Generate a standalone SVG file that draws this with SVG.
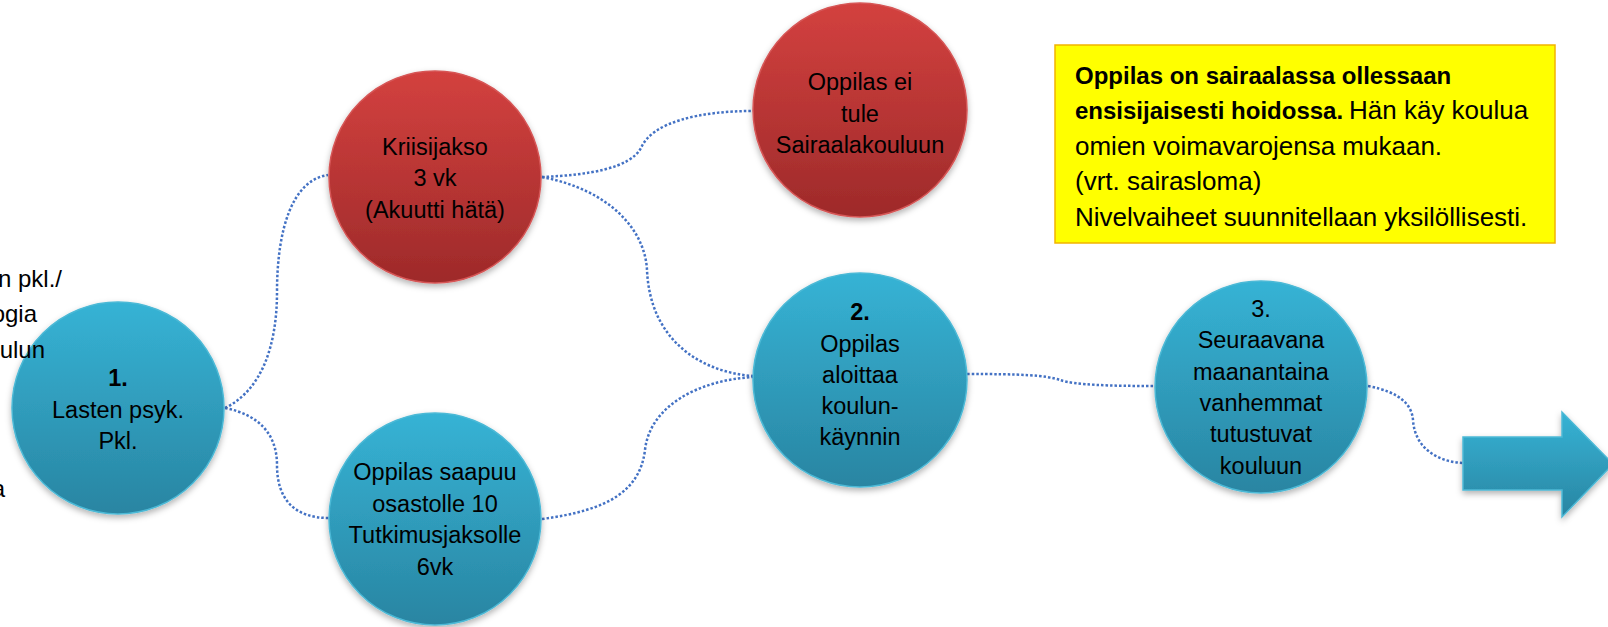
<svg xmlns="http://www.w3.org/2000/svg" width="1608" height="627" viewBox="0 0 1608 627">
<style>
  text { font-family: "Liberation Sans", Arial, sans-serif; fill: #000; }
  .ct { font-size: 23.5px; text-anchor: middle; }
  .b { font-weight: bold; }
  .blue { fill: url(#gBlue); stroke: #4cb9d6; stroke-width: 1.5; filter: url(#sh); }
  .red { fill: url(#gRed); stroke: #d65656; stroke-width: 1.5; filter: url(#sh); }
  .conn { fill: none; stroke: #4472c4; stroke-width: 2.5; stroke-dasharray: 2.5 2; }
  .box { fill: #ffff00; stroke: #f2b400; stroke-width: 1.5; }
  .bt { font-size: 26px; }
  .bb { font-size: 24px; font-weight: bold; }
  .lt { font-size: 24px; text-anchor: end; }
</style>
<defs>
  <linearGradient id="gBlue" x1="0" y1="0" x2="0" y2="1">
    <stop offset="0" stop-color="#36b3d5"/>
    <stop offset="1" stop-color="#2985a2"/>
  </linearGradient>
  <linearGradient id="gRed" x1="0" y1="0" x2="0" y2="1">
    <stop offset="0" stop-color="#d3413f"/>
    <stop offset="1" stop-color="#9e2a2a"/>
  </linearGradient>
  <filter id="sh" x="-20%" y="-20%" width="140%" height="150%">
    <feDropShadow dx="0" dy="3" stdDeviation="3" flood-color="#000" flood-opacity="0.3"/>
  </filter>
</defs>

<g id="connectors">
  <path class="conn" d="M225,408 C262,390 277,345 277,292 C277,230 292,180 328,175"/>
  <path class="conn" d="M225,408 C260,415 277,435 277,465 C277,500 295,518 329,518"/>
  <path class="conn" d="M542,177 C590,175 630,168 641,148 C652,122 700,111 753,111"/>
  <path class="conn" d="M542,177 C610,190 645,230 647,270 C650,340 700,372 753,376"/>
  <path class="conn" d="M542,519 C610,510 640,490 645,450 C650,405 700,380 753,377"/>
  <path class="conn" d="M967,374 C1020,374 1045,375 1060,380 C1075,385 1110,386 1155,386"/>
  <path class="conn" d="M1368,386 C1400,392 1412,405 1413,420 C1415,450 1440,462 1463,463"/>
</g>

<g id="node1">
  <circle class="blue" cx="118" cy="408" r="106"/>
  <text class="ct b" x="118" y="386">1.</text>
  <text class="ct" x="118" y="418">Lasten psyk.</text>
  <text class="ct" x="118" y="449">Pkl.</text>
</g>

<g id="node-kriisi">
  <circle class="red" cx="435" cy="177" r="106"/>
  <text class="ct" x="435" y="155">Kriisijakso</text>
  <text class="ct" x="435" y="186">3 vk</text>
  <text class="ct" x="435" y="218">(Akuutti hätä)</text>
</g>

<g id="node-eitule">
  <circle class="red" cx="860" cy="110" r="107"/>
  <text class="ct" x="860" y="90">Oppilas ei</text>
  <text class="ct" x="860" y="122">tule</text>
  <text class="ct" x="860" y="153">Sairaalakouluun</text>
</g>

<g id="node-saapuu">
  <circle class="blue" cx="435" cy="519" r="106"/>
  <text class="ct" x="435" y="480">Oppilas saapuu</text>
  <text class="ct" x="435" y="512">osastolle 10</text>
  <text class="ct" x="435" y="543">Tutkimusjaksolle</text>
  <text class="ct" x="435" y="575">6vk</text>
</g>

<g id="node2">
  <circle class="blue" cx="860" cy="380" r="107"/>
  <text class="ct b" x="860" y="320">2.</text>
  <text class="ct" x="860" y="352">Oppilas</text>
  <text class="ct" x="860" y="383">aloittaa</text>
  <text class="ct" x="860" y="414">koulun-</text>
  <text class="ct" x="860" y="445">käynnin</text>
</g>

<g id="node3">
  <circle class="blue" cx="1261" cy="387" r="106"/>
  <text class="ct" x="1261" y="317">3.</text>
  <text class="ct" x="1261" y="348">Seuraavana</text>
  <text class="ct" x="1261" y="380">maanantaina</text>
  <text class="ct" x="1261" y="411">vanhemmat</text>
  <text class="ct" x="1261" y="442">tutustuvat</text>
  <text class="ct" x="1261" y="474">kouluun</text>
</g>

<g id="arrow">
  <polygon class="blue" points="1463,437 1562,437 1562,412 1613,464 1562,517 1562,490 1463,490"/>
</g>

<g id="note">
  <rect class="box" x="1055" y="45" width="500" height="198"/>
  <text class="bb" x="1075" y="84">Oppilas on sairaalassa ollessaan</text>
  <text class="bb" x="1075" y="119">ensisijaisesti hoidossa.</text>
  <text class="bt" x="1349" y="119">Hän käy koulua</text>
  <text class="bt" x="1075" y="155">omien voimavarojensa mukaan.</text>
  <text class="bt" x="1075" y="190">(vrt. sairasloma)</text>
  <text class="bt" x="1075" y="226">Nivelvaiheet suunnitellaan yksilöllisesti.</text>
</g>

<g id="left-text">
  <text class="lt" x="62" y="287">n pkl./</text>
  <text class="lt" x="37" y="322">ogia</text>
  <text class="lt" x="45" y="358">ulun</text>
  <text class="lt" x="5" y="497">a</text>
</g>
</svg>
